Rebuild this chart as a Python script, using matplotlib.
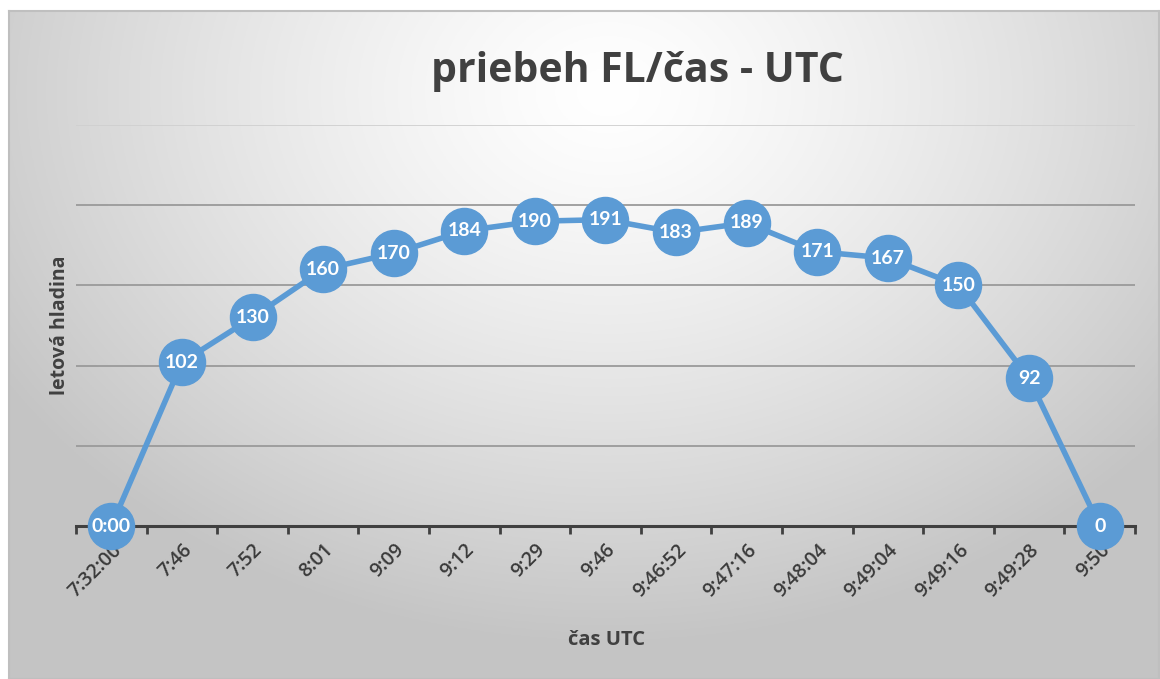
import numpy as np
import matplotlib
matplotlib.use("Agg")
import matplotlib.pyplot as plt

times = ["7:32:00", "7:46", "7:52", "8:01", "9:09", "9:12", "9:29", "9:46",
         "9:46:52", "9:47:16", "9:48:04", "9:49:04", "9:49:16", "9:49:28", "9:50"]
flight_level = [0, 102, 130, 160, 170, 184, 190, 191, 183, 189, 171, 167, 150, 92, 0]
point_labels = ["0:00", "102", "130", "160", "170", "184", "190", "191", "183",
                "189", "171", "167", "150", "92", "0"]
y_ticks = [0, 50, 100, 150, 200, 250]

W, H = 1160, 679
fig = plt.figure(figsize=(W / 100, H / 100), dpi=100)
fig.patch.set_facecolor("white")

# background radial gradient frame
bg = fig.add_axes([9 / W, 0, (W - 10) / W, (H - 11) / H])
ny, nx = 300, 500
yy, xx = np.mgrid[0:ny, 0:nx]
cx, cy = nx * 0.52, ny * 0.12
d = np.sqrt(((xx - cx) / nx) ** 2 + ((yy - cy) / ny * 0.75) ** 2)
d = np.clip(d / 0.62, 0, 1)
val = 1.0 - 0.23 * d ** 1.3
img = np.dstack([val, val, val])
bg.imshow(img, aspect="auto", extent=[0, 1, 0, 1], origin="upper")
bg.set_xlim(0, 1)
bg.set_ylim(0, 1)
bg.set_xticks([])
bg.set_yticks([])
for s in bg.spines.values():
    s.set_color("#bfbfbf")
    s.set_linewidth(1.5)

# main axes
x0, x1 = 76, 1135
y_top, y_bot = 125, 526
ax = fig.add_axes([x0 / W, (H - y_bot) / H, (x1 - x0) / W, (y_bot - y_top) / H])
ax.patch.set_alpha(0)
n = len(times)
xs = np.arange(n)
ax.set_xlim(-0.5, n - 0.5)
ax.set_ylim(0, 250)

for t in y_ticks[1:]:
    ax.axhline(t, color="#9a9a9a" if t < 250 else "#d0d0d0", lw=1.3, zorder=1)

ax.plot(xs, flight_level, color="#5b9bd5", lw=4, zorder=3, solid_capstyle="round")
ax.scatter(xs, flight_level, s=1100, color="#5b9bd5", zorder=4,
           edgecolors="#5b9bd5", clip_on=False)
for x, y, lab in zip(xs, flight_level, point_labels):
    ax.text(x, y, lab, ha="center", va="center", color="white",
            fontsize=14, fontweight="bold", family="Lato", zorder=5, clip_on=False)

for s in ["top", "right", "left"]:
    ax.spines[s].set_visible(False)
ax.spines["bottom"].set_color("#404040")
ax.spines["bottom"].set_linewidth(2.2)
ax.spines["bottom"].set_zorder(2)

ax.set_yticks([])
ax.set_xticks(np.arange(n + 1) - 0.5, minor=False)
ax.set_xticklabels([""] * (n + 1))
ax.tick_params(axis="x", which="major", length=6, width=2, color="#404040")
ax.set_xticks(xs, minor=True)
ax.set_xticklabels(times, minor=True, rotation=45, ha="right", va="top",
                   rotation_mode="anchor", fontsize=14, color="#3a3a3a",
                   family="Open Sans", fontweight="semibold")
ax.tick_params(axis="x", which="minor", length=0, pad=10)

fig.text(637 / W, 1 - 72 / H, "priebeh FL/čas - UTC", ha="center", va="center",
         fontsize=29.5, fontweight="bold", color="#404040", family="Open Sans")
fig.text(606 / W, 1 - 640 / H, "čas UTC", ha="center", va="center",
         fontsize=14.5, fontweight="bold", color="#404040", family="Open Sans")
fig.text(60 / W, 1 - 325 / H, "letová hladina", ha="center", va="center", rotation=90,
         fontsize=14, fontweight="bold", color="#404040", family="Open Sans")

fig.savefig("out.png", dpi=100)
